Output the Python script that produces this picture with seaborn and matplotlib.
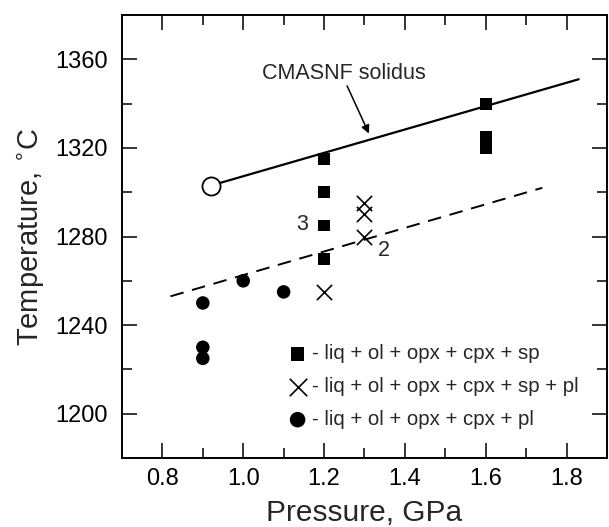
import matplotlib
matplotlib.use("Agg")
import matplotlib.pyplot as plt
import seaborn as sns
import pandas as pd

# --- data ---
sp_P = [1.2, 1.2, 1.2, 1.2, 1.6, 1.6, 1.6]
sp_T = [1315, 1300, 1285, 1270, 1340, 1325, 1320]
sppl_P = [1.3, 1.3, 1.3, 1.2]
sppl_T = [1295, 1290, 1280, 1255]
pl_P = [0.9, 0.9, 0.9, 1.0, 1.1]
pl_T = [1250, 1230, 1225, 1260, 1255]
solidus_P = [0.92, 1.83]
solidus_T = [1303, 1351]
dashed_P = [0.82, 1.74]
dashed_T = [1253, 1302]
open_P = [0.92]
open_T = [1303]
labels = ["- liq + ol + opx + cpx + sp",
          "- liq + ol + opx + cpx + sp + pl",
          "- liq + ol + opx + cpx + pl"]

sns.set_theme(style="ticks")
plt.rcParams['font.family'] = ['Liberation Sans', 'DejaVu Sans']

fig = plt.figure(figsize=(6.09, 5.27), dpi=100)
ax = fig.add_axes([0.2003, 0.1309, 0.7964, 0.8406])

sns.lineplot(x=solidus_P, y=solidus_T, ax=ax, color='black', lw=1.6, zorder=2)
sns.lineplot(x=dashed_P, y=dashed_T, ax=ax, color='black', lw=1.4, zorder=2)
ax.lines[-1].set_dashes([7, 4.5])
sns.scatterplot(x=open_P, y=open_T, ax=ax, marker='o', s=170, facecolor='white',
                edgecolor='black', linewidth=1.3, zorder=3)

sns.scatterplot(x=sp_P, y=sp_T, ax=ax, marker='s', s=72, color='black',
                edgecolor='none', label=labels[0], zorder=4)
sns.scatterplot(x=sppl_P, y=sppl_T, ax=ax, marker='x', s=120, color='black',
                linewidth=1.2, label=labels[1], zorder=4)
sns.scatterplot(x=pl_P, y=pl_T, ax=ax, marker='o', s=95, color='black',
                edgecolor='none', label=labels[2], zorder=4)

ax.set_xlim(0.7, 1.9)
ax.set_ylim(1180, 1380)
ax.set_xticks([0.8, 1.0, 1.2, 1.4, 1.6, 1.8])
ax.set_xticks([0.9, 1.1, 1.3, 1.5, 1.7], minor=True)
ax.set_yticks([1200, 1240, 1280, 1320, 1360])
ax.set_yticks([1220, 1260, 1300, 1340], minor=True)
ax.set_xticklabels(["0.8", "1.0", "1.2", "1.4", "1.6", "1.8"])
ax.tick_params(which='both', direction='in', top=True, right=True,
               labelsize=17, width=1.1, colors='black')
ax.tick_params(axis='x', which='both', pad=7)
ax.tick_params(axis='y', which='both', pad=10)
ax.tick_params(which='major', length=11)
ax.tick_params(which='minor', length=7)
for s in ax.spines.values():
    s.set_linewidth(1.4)
    s.set_color('black')

ax.set_xlabel("Pressure, GPa", fontsize=21.5, labelpad=7)
ax.set_ylabel("Temperature, $^{\\circ}$C", fontsize=21, labelpad=7)

ax.text(1.146, 1285.5, "3", fontsize=15.5, ha='center', va='center')
ax.text(1.348, 1273.5, "2", fontsize=15.5, ha='center', va='center')
ax.text(1.249, 1353.5, "CMASNF solidus", fontsize=15.5, ha='center', va='center')
ax.annotate("", xy=(1.311, 1326.5), xytext=(1.257, 1348),
            arrowprops=dict(arrowstyle='-|>', color='black', lw=1.1,
                            mutation_scale=12, shrinkA=0, shrinkB=0))

leg = ax.legend(loc='lower left', bbox_to_anchor=(0.32, 0.047), frameon=False,
                fontsize=14.7, handletextpad=0.12, handlelength=1.2,
                labelspacing=0.68, borderaxespad=0, borderpad=0.4,
                markerscale=1.15)

fig.savefig("out.png", dpi=100)
